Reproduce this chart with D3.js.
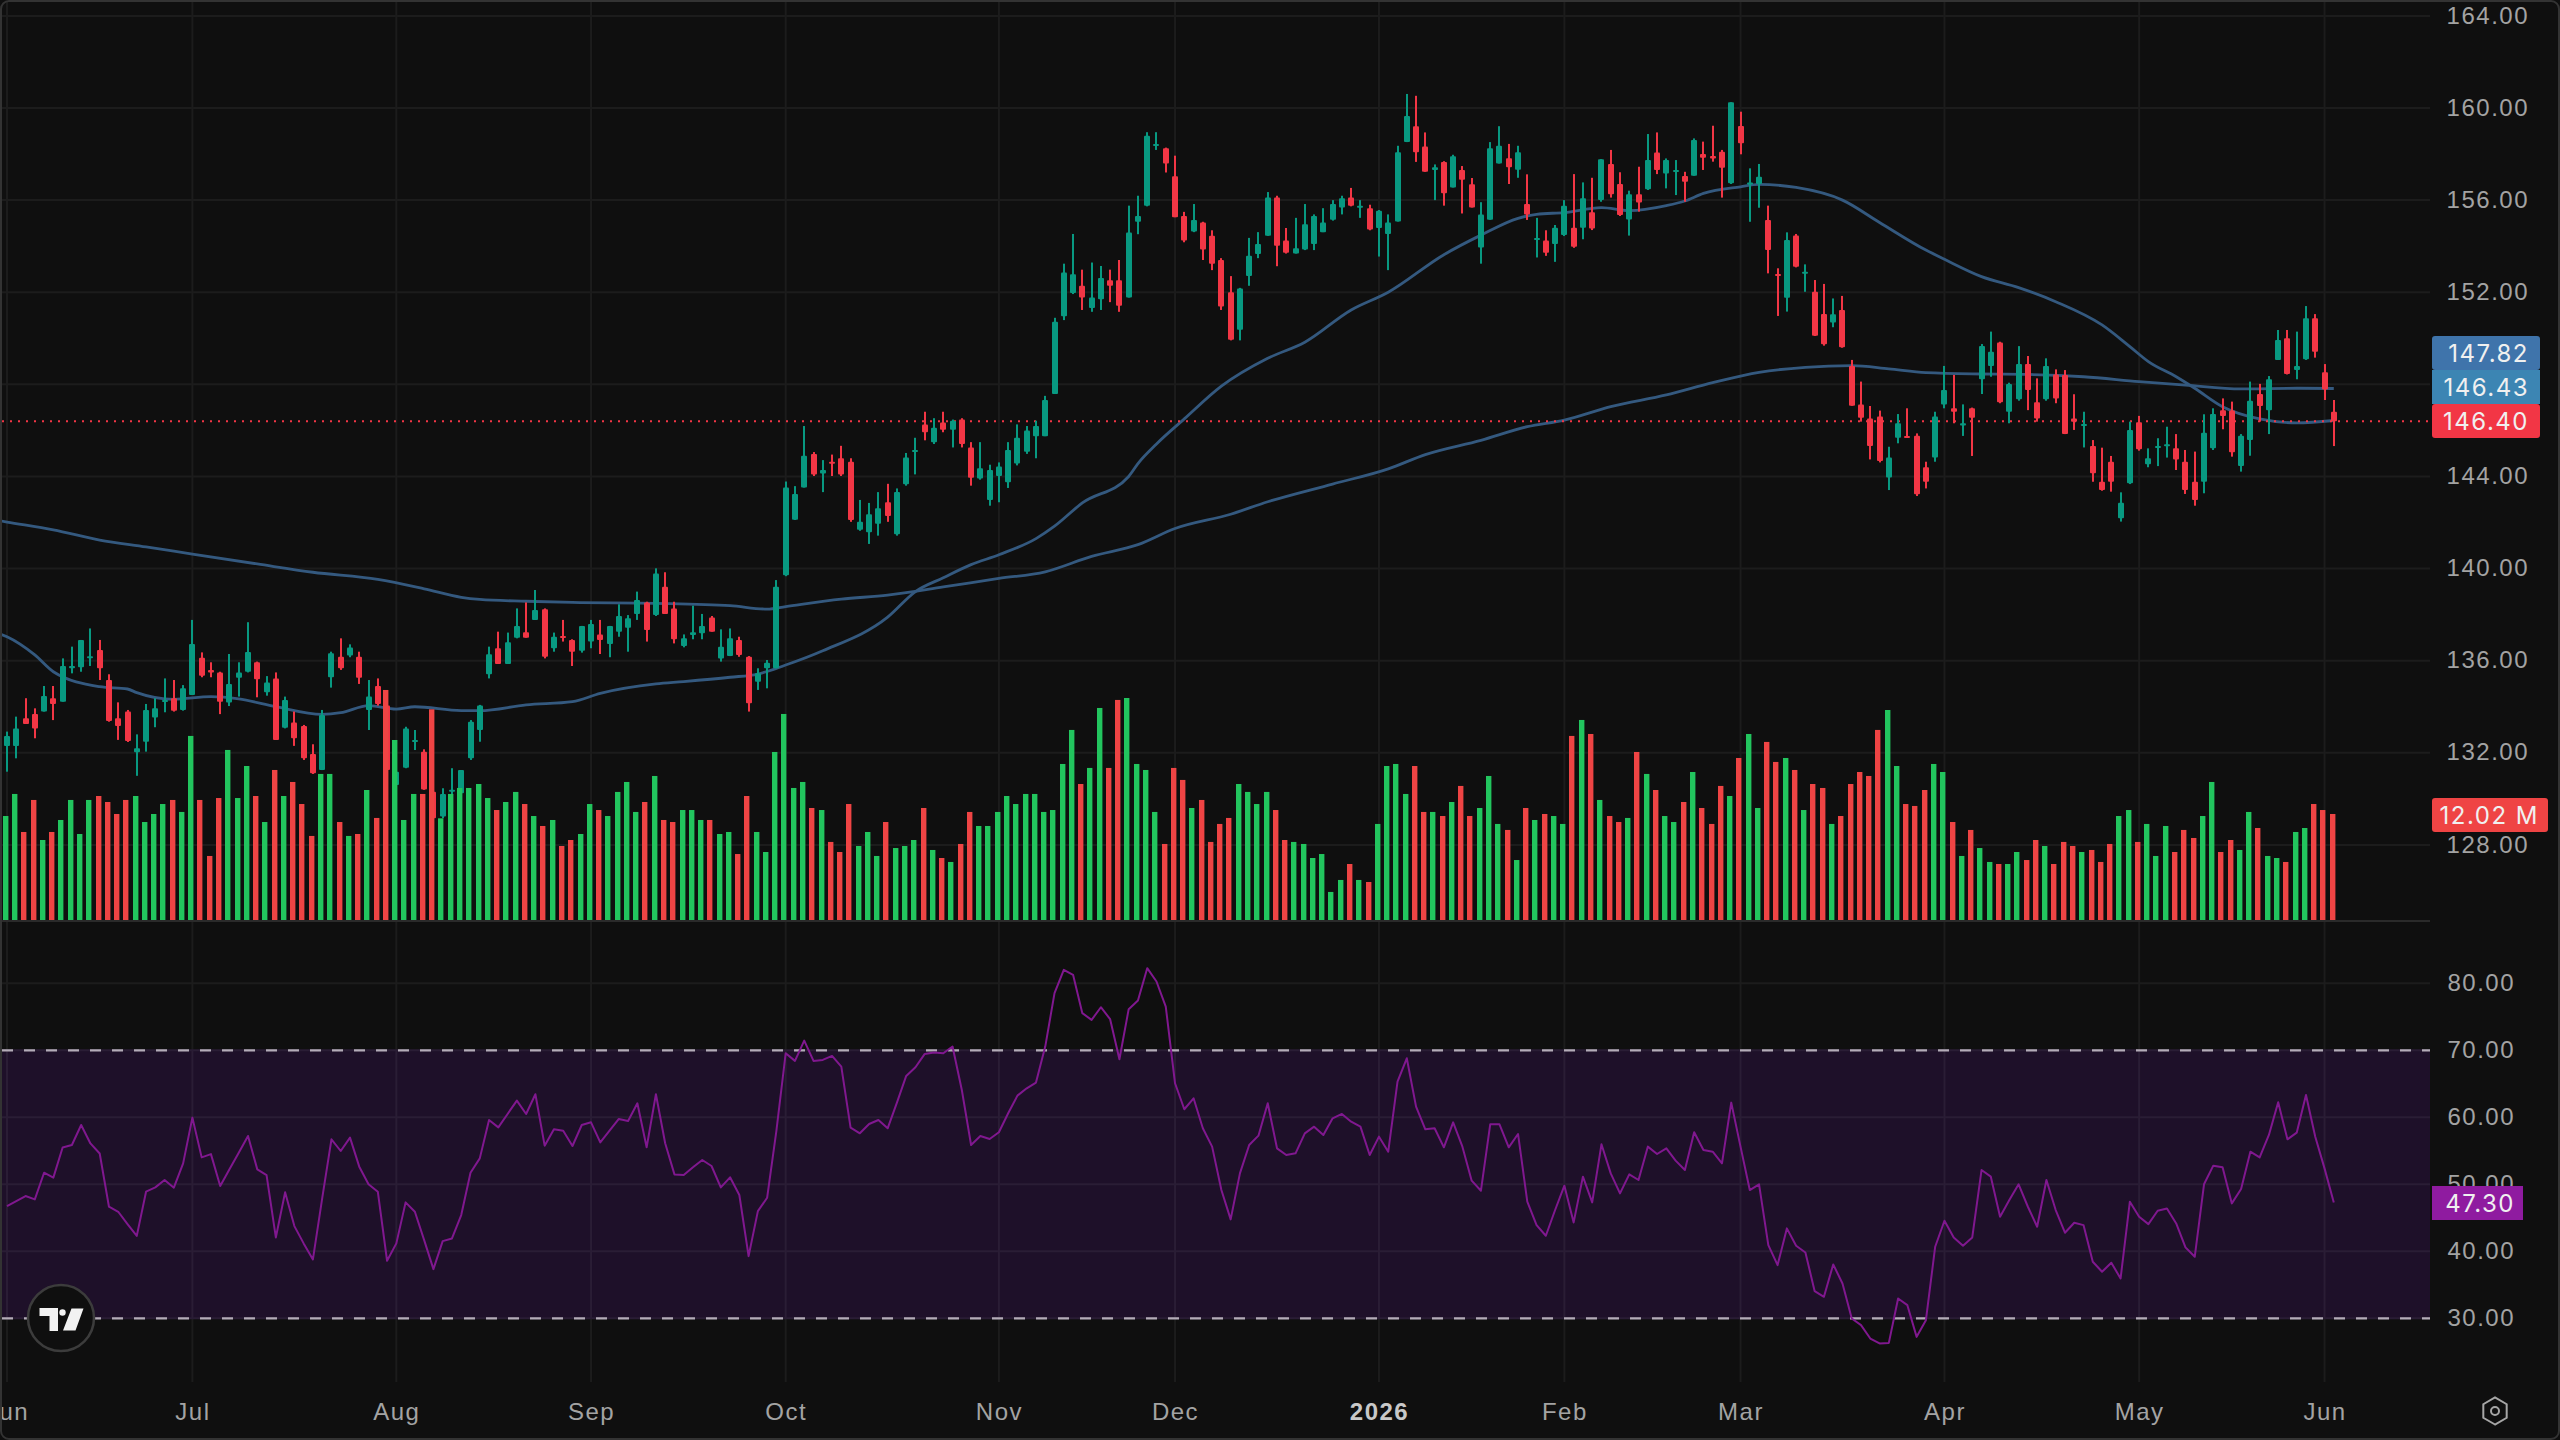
<!DOCTYPE html>
<html>
<head>
<meta charset="utf-8">
<title>Daily price chart with volume and RSI</title>
<script src="https://cdn.jsdelivr.net/npm/d3@7"></script>
<style>
  html, body { margin: 0; padding: 0; background: #0f0f0f; }
  svg { display: block; font-family: Inter, "Noto Sans", sans-serif; letter-spacing: 1.5px; }
</style>
</head>
<body>
<svg id="chart" width="2560" height="1440"></svg>
<script>
// Daily session values, one entry per trading day.
const opens = [
132.30,132.30,133.50,133.68,133.79,134.37,134.22,135.67,135.71,136.12,
136.46,135.16,133.50,133.79,132.02,132.48,133.53,134.22,134.37,133.86,
134.51,136.13,135.60,135.49,134.18,135.26,135.52,135.93,134.63,135.23,
133.09,133.32,133.16,131.95,131.25,135.28,136.17,136.22,136.17,133.86,
134.90,134.05,130.60,131.35,132.47,132.05,130.31,129.23,130.31,130.24,
131.76,132.99,135.41,136.54,135.86,137.00,137.23,137.77,138.23,136.54,
137.07,136.90,136.43,136.83,137.14,136.72,137.26,137.43,138.03,138.53,
137.98,139.21,138.27,136.64,137.12,137.19,137.87,136.10,136.20,136.90,
136.17,135.09,135.67,135.67,139.71,142.12,143.52,144.98,144.13,144.64,
144.79,144.64,141.69,141.58,141.95,142.88,141.49,143.66,145.06,146.26,
145.49,146.34,146.03,146.47,145.26,143.91,142.98,144.02,143.75,144.56,
145.07,145.75,145.75,147.58,150.96,151.97,152.28,151.31,151.69,152.52,
152.52,151.77,155.06,155.76,158.36,158.25,157.04,155.31,154.64,155.03,
154.45,153.40,152.00,150.37,152.70,153.66,154.45,156.11,154.25,153.68,
153.86,154.10,154.61,155.15,155.68,156.11,155.68,155.65,154.79,154.53,
155.07,158.52,159.21,158.33,157.31,157.66,156.55,157.31,156.69,153.94,
155.15,157.59,157.82,157.32,155.83,154.28,154.25,154.10,154.48,154.80,
154.80,155.47,156.00,157.57,156.70,155.16,156.25,156.47,158.07,157.16,
157.23,157.05,157.06,158.00,157.92,158.10,156.73,159.22,156.70,156.70,
155.14,152.79,151.76,154.46,152.82,152.02,151.06,150.69,151.23,148.80,
147.13,146.52,146.60,143.95,145.68,145.76,145.77,144.40,144.82,147.13,
146.96,146.21,146.96,148.22,148.80,149.82,146.81,147.35,148.88,147.22,
147.35,148.43,148.41,146.52,146.21,145.32,143.77,144.64,142.18,143.70,
146.35,144.53,145.25,145.34,145.22,144.64,143.77,143.77,145.22,146.88,
146.86,144.45,145.58,147.58,146.88,149.06,150.00,148.62,149.09,150.87,
148.52,146.81];

const highs = [
132.92,133.57,134.37,133.93,134.90,134.90,136.10,136.61,136.90,137.40,
136.90,135.41,134.19,133.86,132.80,134.12,134.37,135.23,135.16,134.94,
137.77,136.36,135.93,135.52,136.29,135.93,137.67,135.96,135.33,135.49,
134.44,133.79,133.21,132.37,133.86,136.39,136.97,136.71,136.39,135.16,
135.23,134.15,131.54,133.13,132.99,132.15,130.53,130.46,131.33,131.25,
133.42,134.08,136.61,137.26,137.22,138.27,138.53,139.07,138.27,137.22,
137.77,136.93,137.51,137.77,137.77,137.51,138.45,137.98,139.00,138.56,
140.01,139.84,138.56,137.14,138.39,138.03,137.94,137.36,137.40,137.04,
136.20,135.67,136.03,139.50,143.78,143.58,146.19,145.06,144.71,144.95,
145.33,144.79,142.98,142.85,143.32,143.68,143.48,145.02,145.68,146.81,
146.53,146.81,146.47,146.53,145.49,145.49,144.51,144.61,145.49,146.26,
146.19,146.42,147.50,150.89,153.24,154.53,152.98,153.29,153.14,152.98,
153.40,155.76,156.19,158.95,158.95,158.28,157.93,155.49,155.83,155.06,
154.69,153.48,152.70,152.19,154.36,154.61,156.35,156.19,154.79,155.23,
155.83,155.38,155.65,156.00,156.19,156.53,156.00,155.80,155.57,155.38,
158.36,160.61,160.53,158.94,157.55,157.69,157.97,157.48,156.96,155.91,
158.52,159.21,158.44,158.36,157.12,155.23,154.69,154.92,156.00,157.13,
156.77,156.97,157.78,158.18,157.21,156.41,157.45,158.87,158.94,157.81,
157.74,157.23,158.68,158.54,159.23,158.18,160.25,159.84,157.38,157.57,
155.76,153.04,154.60,154.53,153.21,152.53,152.36,151.73,151.84,149.06,
148.12,147.06,146.86,145.29,146.71,146.96,145.87,144.64,146.81,148.80,
148.41,147.13,146.99,149.75,150.29,149.85,148.07,149.66,149.23,148.26,
149.13,148.65,148.62,147.57,146.81,145.58,145.25,144.89,143.31,146.38,
146.63,145.22,145.66,146.16,145.84,145.15,145.08,146.70,146.96,147.39,
147.25,145.84,148.12,148.02,148.36,150.36,150.36,150.29,151.40,151.05,
148.88,147.32];

const lows = [
131.18,131.76,133.25,132.63,133.79,133.42,134.22,135.45,135.52,135.77,
135.16,133.35,132.56,132.47,131.00,132.05,133.11,133.76,133.79,133.83,
134.51,135.28,135.28,133.68,134.03,134.44,135.49,134.41,134.48,132.56,
133.06,132.30,131.69,131.08,131.25,134.83,135.60,136.15,134.99,132.99,
134.05,131.11,129.95,131.33,132.12,130.39,129.08,129.16,129.81,130.17,
131.69,132.48,135.23,135.86,135.86,136.97,137.00,137.77,136.10,136.39,
136.83,135.77,136.35,136.54,136.29,136.15,137.04,136.39,137.77,136.83,
137.94,138.03,136.75,136.58,136.93,136.93,137.26,135.96,136.20,136.17,
133.79,134.73,134.80,135.67,139.67,142.11,143.52,144.02,143.32,144.02,
144.02,142.03,141.64,141.07,141.43,142.03,141.43,143.60,144.09,145.57,
145.41,145.92,145.26,145.26,143.60,143.86,142.73,142.88,143.50,144.48,
144.98,144.79,145.75,147.58,150.79,151.92,151.23,151.15,151.23,151.57,
151.15,151.77,154.52,155.73,158.18,157.20,155.26,154.17,154.61,153.40,
152.96,151.23,149.91,149.91,152.28,153.48,154.45,153.13,153.68,153.68,
153.83,153.83,154.61,155.11,155.38,155.73,155.23,154.69,153.55,152.96,
155.07,158.52,157.66,157.23,156.00,155.76,156.55,155.42,155.68,153.24,
155.15,157.59,156.70,156.97,155.14,153.51,153.58,153.32,154.44,153.93,
154.30,154.70,155.93,156.11,155.31,154.46,155.50,156.44,157.13,156.51,
156.22,155.93,157.06,157.31,157.67,156.11,156.70,157.99,155.06,155.67,
152.82,150.97,151.16,153.08,152.02,150.10,149.68,150.48,149.59,147.07,
146.38,144.74,144.61,143.41,145.44,145.68,143.15,143.48,144.64,146.96,
146.31,145.76,144.89,147.58,148.33,147.18,146.31,147.29,146.88,146.38,
147.29,147.18,145.84,146.02,145.26,143.77,143.38,143.34,142.04,143.67,
145.12,144.40,144.45,144.82,144.28,143.24,142.73,143.27,145.15,146.05,
144.86,144.21,144.90,146.38,145.84,149.06,148.43,148.22,149.06,149.16,
147.32,145.32];

const closes = [
132.73,133.06,133.25,133.06,134.47,134.12,135.77,135.77,136.90,136.19,
135.67,133.38,133.16,132.51,132.20,133.86,133.93,134.29,133.83,134.80,
136.72,135.35,135.49,134.22,134.99,135.49,136.38,135.19,135.05,132.56,
134.29,132.63,131.76,131.11,133.64,136.32,135.67,136.57,135.26,134.44,
134.12,131.25,131.18,133.06,132.56,130.41,129.16,130.21,130.39,131.25,
133.35,134.05,136.28,135.86,136.80,137.51,137.00,138.20,136.17,137.04,
137.00,136.39,137.51,137.59,136.90,137.51,137.94,137.84,138.63,137.33,
139.79,138.03,136.93,136.97,137.23,137.51,137.26,136.61,136.97,136.25,
134.15,135.45,135.91,139.21,143.52,143.24,144.90,144.09,144.28,144.56,
144.09,142.11,142.03,142.36,142.62,142.28,143.32,144.82,145.15,145.92,
146.11,146.03,146.42,145.41,143.94,144.36,144.28,144.43,145.15,145.68,
146.00,146.19,147.32,150.72,152.86,152.78,151.77,151.77,152.62,152.28,
151.41,154.59,155.31,158.80,158.44,157.59,155.26,154.25,155.14,153.86,
153.24,151.38,149.94,152.16,153.58,154.10,156.11,154.02,153.71,153.91,
154.95,155.31,155.03,155.83,156.08,155.76,155.76,154.72,155.54,155.03,
158.08,159.65,158.08,157.23,157.43,156.30,157.90,156.89,155.68,155.38,
158.25,158.36,157.43,158.08,155.38,154.36,153.71,154.80,155.76,153.98,
156.08,154.77,157.78,156.25,155.35,156.25,155.90,157.74,157.31,157.74,
157.31,156.80,158.61,157.84,157.81,157.41,160.25,158.47,156.77,157.02,
153.83,152.70,154.27,153.11,152.89,150.11,149.74,151.04,149.61,147.07,
146.55,145.32,144.67,144.82,146.31,145.68,143.23,143.77,146.60,147.75,
146.81,146.31,146.55,149.66,149.42,147.22,148.01,148.88,147.75,146.52,
148.80,147.39,145.84,146.38,146.28,144.14,143.41,143.77,142.86,146.02,
145.18,144.79,145.32,145.40,144.74,143.41,142.98,145.90,146.71,146.63,
145.05,145.77,147.29,147.06,148.22,149.93,148.45,148.80,150.87,149.42,
147.78,146.40];

// Traded volume per session, in millions of shares.
const volumes = [
11.79,14.29,9.98,13.61,9.07,9.98,11.34,13.61,9.75,13.61,
14.06,13.38,12.02,13.61,14.06,11.11,12.02,13.15,13.61,12.25,
20.87,13.61,7.26,13.83,19.28,13.83,17.46,14.06,11.11,17.01,
14.06,15.65,13.15,9.53,16.56,16.56,11.11,9.53,9.75,14.74,
11.57,26.08,20.41,11.34,14.29,14.29,23.89,11.53,14.29,14.97,
14.97,15.42,13.83,12.47,13.38,14.52,13.15,11.79,10.66,11.34,
8.39,9.07,9.75,13.15,12.47,11.79,14.52,15.65,12.25,13.38,
16.33,11.34,11.11,12.47,12.47,11.34,11.34,9.75,9.98,7.48,
14.06,9.98,7.71,19.05,23.36,14.97,15.65,12.70,12.47,8.85,
7.71,13.15,8.39,9.98,7.26,11.11,8.16,8.39,9.07,12.70,
7.94,7.03,6.58,8.62,12.25,10.66,10.66,12.25,14.06,13.15,
14.29,14.29,12.25,12.47,17.69,21.55,15.42,17.24,24.04,17.24,
24.95,25.17,17.69,17.01,12.25,8.62,17.24,15.88,12.70,13.61,
8.85,10.89,11.57,15.42,14.52,13.15,14.52,12.47,9.07,8.85,
8.62,7.03,7.48,3.18,4.54,6.35,4.54,4.31,10.89,17.46,
17.69,14.29,17.46,12.25,12.25,11.79,13.38,15.20,11.79,12.70,
16.33,10.89,10.21,6.80,12.70,11.34,12.02,11.79,10.89,20.87,
22.68,21.09,13.61,11.79,11.11,11.57,19.05,16.56,14.74,11.79,
11.11,13.38,16.78,12.70,10.89,15.20,14.06,18.37,21.09,12.70,
20.19,17.92,18.37,17.01,12.47,15.42,14.97,10.89,11.79,15.42,
16.78,16.33,21.55,23.81,17.46,13.15,12.93,14.74,17.69,16.78,
11.11,7.26,10.21,8.16,6.58,6.35,6.35,7.71,6.80,9.07,
8.39,6.35,8.85,8.39,7.71,7.94,6.58,8.62,11.79,12.47,
8.85,10.89,7.26,10.66,7.71,10.21,9.30,11.79,15.65,7.71,
9.07,7.94,12.25,10.43,7.26,7.03,6.58,9.98,10.43,13.15,
12.47,12.02];

// Relative strength index per session.
const rsi = [
46.75,47.50,48.25,47.75,51.73,51.00,55.50,55.87,58.85,56.10,
54.60,46.65,45.90,44.06,42.30,48.90,49.54,50.64,49.50,53.13,
59.95,54.02,54.50,49.74,52.23,54.72,57.21,52.23,51.38,42.07,
48.80,43.76,41.18,38.78,47.90,56.71,54.97,56.96,52.63,50.00,
48.89,38.59,41.18,47.30,45.91,41.67,37.34,41.52,41.92,45.41,
51.73,53.87,59.60,58.50,60.50,62.49,60.50,63.44,55.77,58.21,
58.00,55.72,58.85,59.25,56.26,58.00,59.75,59.45,62.09,55.52,
63.44,56.12,51.48,51.38,52.53,53.63,52.73,49.54,51.04,48.40,
39.28,46.00,48.00,58.00,69.56,68.42,71.45,68.42,68.57,69.16,
67.57,58.46,57.61,59.00,59.60,58.36,62.19,66.18,67.47,69.46,
69.66,69.56,70.56,64.08,55.87,57.21,56.76,57.76,60.60,63.24,
64.33,65.18,70.56,78.53,82.01,81.27,75.54,74.54,76.43,74.64,
68.67,76.14,77.43,82.26,80.27,76.53,65.08,61.20,62.84,58.36,
55.62,49.14,44.76,51.63,55.87,57.26,62.09,55.37,54.37,54.62,
57.61,58.60,57.36,59.85,60.50,59.35,58.60,54.37,57.11,54.87,
65.33,68.81,61.59,58.21,58.36,55.52,59.25,55.62,50.54,49.04,
58.95,58.95,55.52,57.51,47.40,43.91,42.32,46.16,49.79,44.31,
51.14,47.30,55.97,51.63,48.65,51.48,50.64,55.62,54.52,55.37,
53.53,52.13,57.76,55.12,54.87,53.13,62.19,55.62,49.14,49.99,
40.93,37.94,43.42,40.83,39.83,34.05,33.21,38.04,35.20,29.97,
28.98,26.98,26.24,26.33,32.96,31.96,27.23,29.72,40.68,44.56,
42.07,40.83,42.07,52.13,51.14,45.16,47.65,50.00,46.65,43.67,
50.64,46.16,42.77,44.26,43.91,38.44,36.94,38.29,35.95,47.40,
45.16,44.06,46.05,46.40,44.16,40.58,39.18,50.00,52.78,52.53,
47.15,49.29,54.87,54.02,57.36,62.24,56.71,57.71,63.34,57.11,
52.38,47.30];

// Moving averages, sampled at the listed session numbers.
const slowMaSessions = [-1,0,5,10,15,20,27,33,40,45,49,51,56,61,70,78,82,84,90,95,101,107,112,117,122,126,132,136,143,149,153,159,164,168,173,179,184,189,194,199,203,207,213,218,224,230,235,241,247,251];
const slowMaValues = [142.09,142.02,141.68,141.24,140.94,140.63,140.20,139.84,139.53,139.12,138.75,138.66,138.58,138.53,138.49,138.39,138.24,138.35,138.67,138.85,139.20,139.57,139.86,140.53,141.04,141.74,142.36,142.90,143.67,144.33,144.95,145.57,146.16,146.45,147.03,147.54,148.07,148.52,148.74,148.81,148.67,148.51,148.45,148.43,148.33,148.12,147.97,147.80,147.83,147.82];
const fastMaSessions = [-1,0,3,5,10,13,14,18,22,25,29,34,36,39,42,44,49,51,56,61,64,70,73,78,81,84,88,95,98,101,104,107,111,113,116,121,122,124,127,131,136,140,145,149,155,159,163,165,168,172,175,179,181,183,187,189,193,198,202,207,209,213,217,221,226,229,231,234,236,239,243,247,251];
const fastMaValues = [137.20,137.04,136.25,135.52,134.87,134.77,134.61,134.32,134.44,134.34,134.00,133.67,133.74,134.05,133.90,134.00,133.83,133.83,134.08,134.22,134.58,134.99,135.09,135.28,135.42,135.81,136.43,137.89,139.00,139.60,140.17,140.60,141.30,141.84,142.85,144.00,144.56,145.41,146.50,147.92,149.13,149.83,151.23,152.00,153.63,154.48,155.21,155.38,155.46,155.67,155.54,155.76,155.96,156.29,156.58,156.68,156.55,156.00,155.03,153.83,153.43,152.68,152.20,151.59,150.58,149.64,148.99,148.33,147.83,147.03,146.50,146.33,146.43];

// Axis labels.
const priceTicks = [164,160,156,152,148,144,140,136,132,128];
const rsiTicks = [80,70,60,50,40,30];
const monthSessions = [0,20,42,63,84,107,126,148,168,187,209,230,250];
const monthLabels = ["Jun","Jul","Aug","Sep","Oct","Nov","Dec","2026","Feb","Mar","Apr","May","Jun"];

// Last-value tags on the right axis.
const lastSlowMa = 147.82, lastFastMa = 146.43, lastClose = 146.40, lastVolume = 12.02, lastRsi = 47.30;
const rsiUpper = 70, rsiLower = 30;

const BG = "#0f0f0f", GRID = "#1c1c1c", AXIS_TEXT = "#a3a3a3";
const UP = "#089981", DOWN = "#f23645", VOL_UP = "#22c55e", VOL_DOWN = "#ef4444";
const MA_COLOR = "#34597f", RSI_COLOR = "#80188f";
const plotRight = 2430, paneBottom = 920, timeBottom = 1382, labelRight = 2529;

const svg = d3.select("#chart");
svg.append("rect").attr("width", 2560).attr("height", 1440).attr("fill", BG);

const x = d3.scaleLinear().domain([0, 251]).range([7, 2333.8]);
const yPrice = d3.scaleLinear().domain([128, 164]).range([844.9, 15.9]);
const yVol = d3.scaleLinear().domain([0, 30]).range([paneBottom, paneBottom - 264.6]);
const yRsi = d3.scaleLinear().domain([30, 80]).range([1318.3, 983.3]);

const sessions = d3.range(opens.length);
const defs = svg.append("defs");
defs.append("clipPath").attr("id", "mainClip").append("rect")
  .attr("x", 2).attr("y", 2).attr("width", plotRight - 2).attr("height", paneBottom - 2);
defs.append("clipPath").attr("id", "axisClip").append("rect")
  .attr("x", 2).attr("y", timeBottom).attr("width", 2556).attr("height", 56);

// Gridlines
const grid = svg.append("g").attr("stroke", GRID).attr("stroke-width", 2);
grid.selectAll("line.h").data(priceTicks).join("line").attr("class", "h")
  .attr("x1", 2).attr("x2", plotRight).attr("y1", d => yPrice(d)).attr("y2", d => yPrice(d));
grid.selectAll("line.v").data(monthSessions).join("line").attr("class", "v")
  .attr("x1", d => x(d)).attr("x2", d => x(d)).attr("y1", 2).attr("y2", timeBottom);

// RSI band with its own gridlines
svg.append("rect").attr("x", 2).attr("width", plotRight - 2)
  .attr("y", yRsi(rsiUpper)).attr("height", yRsi(rsiLower) - yRsi(rsiUpper))
  .attr("fill", "#1e1029");
const rsiGrid = svg.append("g").attr("stroke-width", 2);
rsiGrid.selectAll("line.h").data(rsiTicks).join("line").attr("class", "h")
  .attr("stroke", d => d === 80 ? GRID : "#2a1d35")
  .attr("x1", 2).attr("x2", plotRight).attr("y1", d => yRsi(d)).attr("y2", d => yRsi(d));
rsiGrid.selectAll("line.v").data(monthSessions).join("line").attr("class", "v")
  .attr("stroke", "#2a1d35")
  .attr("x1", d => x(d)).attr("x2", d => x(d))
  .attr("y1", yRsi(rsiUpper)).attr("y2", yRsi(rsiLower));

// Main pane: averages, candles and then volume on top
const main = svg.append("g").attr("clip-path", "url(#mainClip)");
const maLine = d3.line().curve(d3.curveMonotoneX).x(d => x(d[0])).y(d => yPrice(d[1]));
[[slowMaSessions, slowMaValues], [fastMaSessions, fastMaValues]].forEach(([s, v]) => {
  main.append("path").attr("d", maLine(d3.zip(s, v)))
    .attr("fill", "none").attr("stroke", MA_COLOR).attr("stroke-width", 2.8);
});

main.append("line").attr("x1", 2).attr("x2", plotRight)
  .attr("y1", yPrice(lastClose)).attr("y2", yPrice(lastClose))
  .attr("stroke", DOWN).attr("stroke-width", 2).attr("stroke-dasharray", "2 6");

const isUp = i => closes[i] >= opens[i];
const candles = main.append("g");
candles.selectAll("rect.wick").data(sessions).join("rect").attr("class", "wick")
  .attr("x", i => Math.round(x(i)) - 1).attr("width", 2)
  .attr("y", i => yPrice(highs[i]))
  .attr("height", i => yPrice(lows[i]) - yPrice(highs[i]))
  .attr("fill", i => isUp(i) ? UP : DOWN);
candles.selectAll("rect.body").data(sessions).join("rect").attr("class", "body")
  .attr("x", i => Math.round(x(i)) - 3).attr("width", 6)
  .attr("y", i => yPrice(Math.max(opens[i], closes[i])))
  .attr("height", i => Math.max(2, Math.abs(yPrice(opens[i]) - yPrice(closes[i]))))
  .attr("rx", 1)
  .attr("fill", i => isUp(i) ? UP : DOWN);

main.append("g").selectAll("rect").data(sessions).join("rect")
  .attr("x", i => Math.round(x(i) - 1.2) - 3).attr("width", 5.4)
  .attr("y", i => yVol(volumes[i]))
  .attr("height", i => yVol(0) - yVol(volumes[i]))
  .attr("fill", i => isUp(i) ? VOL_UP : VOL_DOWN);

// Pane separator
svg.append("line").attr("x1", 2).attr("x2", plotRight)
  .attr("y1", paneBottom + 1).attr("y2", paneBottom + 1)
  .attr("stroke", "#2a2a2a").attr("stroke-width", 2);

// RSI pane
[rsiUpper, rsiLower].forEach(level => {
  svg.append("line").attr("x1", 2).attr("x2", plotRight)
    .attr("y1", yRsi(level)).attr("y2", yRsi(level))
    .attr("stroke", "#b4acb8").attr("stroke-width", 2.2).attr("stroke-dasharray", "11 11");
});
svg.append("path")
  .attr("d", d3.line().x((d, i) => x(i)).y(d => yRsi(d))(rsi))
  .attr("fill", "none").attr("stroke", RSI_COLOR).attr("stroke-width", 2).attr("stroke-linejoin", "round");

// Right-hand axes
function styleAxis(g, size) {
  g.select(".domain").remove();
  g.selectAll(".tick line").remove();
  g.selectAll(".tick text").attr("text-anchor", "end").attr("x", 0)
    .attr("dy", "0.3em").attr("fill", AXIS_TEXT).attr("font-size", size);
}
const fmt = d3.format(".2f");
svg.append("g").attr("transform", `translate(${labelRight},0)`)
  .call(d3.axisRight(yPrice).tickValues(priceTicks).tickFormat(fmt).tickSize(0))
  .call(g => styleAxis(g, 24));
svg.append("g").attr("transform", "translate(2515,0)")
  .call(d3.axisRight(yRsi).tickValues(rsiTicks).tickFormat(fmt).tickSize(0))
  .call(g => styleAxis(g, 24));

// Value tags
function tag(y0, y1, x1, fill, text, textRight, radius) {
  svg.append("rect").attr("x", 2432).attr("y", y0).attr("width", x1 - 2432).attr("height", y1 - y0)
    .attr("rx", radius).attr("fill", fill);
  svg.append("text").attr("x", textRight).attr("y", (y0 + y1) / 2).attr("dy", "0.36em")
    .attr("text-anchor", "end").attr("font-size", 24).attr("fill", "#f0f0f0").text(text);
}
tag(336, 370, 2540, "#3f74ab", fmt(lastSlowMa), labelRight, 3);
tag(370, 404, 2540, "#3c85b3", fmt(lastFastMa), labelRight, 0);
tag(404, 438, 2540, DOWN, fmt(lastClose), labelRight, 3);
tag(798, 832, 2548, VOL_DOWN, `${fmt(lastVolume)} M`, 2539, 3);
tag(1186, 1220, 2523, "#8f1ba0", fmt(lastRsi), 2515, 0);

// Time axis
const timeAxis = svg.append("g").attr("clip-path", "url(#axisClip)").append("g")
  .attr("transform", "translate(0,1411.5)")
  .call(d3.axisBottom(x).tickValues(d3.range(monthSessions.length).map(k => monthSessions[k]))
    .tickFormat(d => monthLabels[monthSessions.indexOf(d)]).tickSize(0));
timeAxis.select(".domain").remove();
timeAxis.selectAll(".tick line").remove();
timeAxis.selectAll(".tick text").attr("y", 0).attr("dy", "0.36em")
  .attr("font-size", 24)
  .attr("font-weight", (d, k) => monthLabels[k] === "2026" ? 700 : 400)
  .attr("fill", (d, k) => monthLabels[k] === "2026" ? "#c8c8c8" : AXIS_TEXT);

// Logo badge
const badge = svg.append("g");
badge.append("circle").attr("cx", 61).attr("cy", 1318).attr("r", 33)
  .attr("fill", BG).attr("stroke", "#3c3c3c").attr("stroke-width", 2.5);
badge.append("path").attr("fill", "#f2f2f2")
  .attr("d", "M39.5 1308h18.5v23h-8.5v-15h-10z M71.5 1308.5h12l-8 22h-12.5z");
badge.append("circle").attr("cx", 62.5).attr("cy", 1312.5).attr("r", 3.2).attr("fill", "#f2f2f2");

// Settings glyph
const hexagon = d3.range(6).map(k => {
  const a = Math.PI / 2 + k * Math.PI / 3;
  return [2495 + 13.5 * Math.cos(a), 1411 + 13.5 * Math.sin(a)];
});
svg.append("path").attr("d", d3.line().curve(d3.curveLinearClosed)(hexagon))
  .attr("fill", "none").attr("stroke", "#a6a6a6").attr("stroke-width", 2);
svg.append("circle").attr("cx", 2495).attr("cy", 1411).attr("r", 4)
  .attr("fill", "none").attr("stroke", "#a6a6a6").attr("stroke-width", 2);

// Outer frame
svg.append("rect").attr("x", 1).attr("y", 1).attr("width", 2558).attr("height", 1438)
  .attr("rx", 8).attr("fill", "none").attr("stroke", "#333333").attr("stroke-width", 2);
</script>
</body>
</html>
